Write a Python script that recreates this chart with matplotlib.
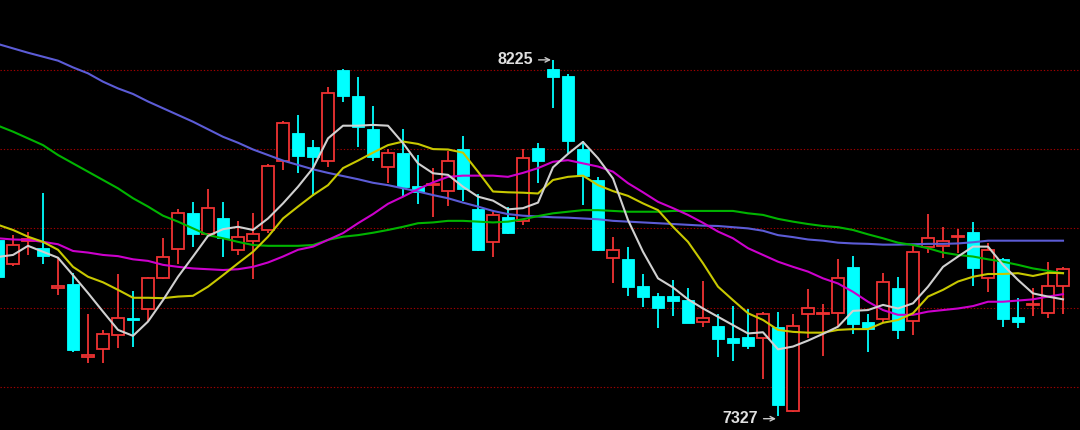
import matplotlib
matplotlib.use('Agg')
import matplotlib.pyplot as plt
import numpy as np

# ---- data (prices) ----
opens = [7771, 7710, 7768, 7751, 7650, 7660, 7476, 7496, 7531, 7574,
         7597, 7675, 7748, 7839, 7786, 7826, 7746, 7768, 7796, 7970,
         8041, 8005, 7970, 8199, 8134, 8051, 7955, 7990, 7907, 7909,
         7894, 8000, 7849, 7766, 7829, 7819, 8003, 8202, 8184, 8000,
         7922, 7725, 7723, 7655, 7629, 7629, 7619, 7564, 7554, 7524,
         7526, 7524, 7551, 7339, 7584, 7584, 7587, 7703, 7564, 7571,
         7650, 7566, 7753, 7756, 7779, 7791, 7675, 7723, 7577, 7607,
         7587, 7655]
highs = [7776, 7783, 7791, 7889, 7728, 7687, 7584, 7544, 7685, 7642,
         7677, 7776, 7849, 7867, 7899, 7867, 7819, 7839, 7962, 8071,
         8086, 8023, 8157, 8202, 8182, 8109, 8000, 8051, 7985, 7952,
         7995, 8033, 7887, 7841, 7854, 8000, 8015, 8225, 8189, 8020,
         7930, 7778, 7753, 7685, 7637, 7670, 7650, 7667, 7584, 7604,
         7597, 7589, 7589, 7584, 7647, 7609, 7723, 7730, 7584, 7688,
         7677, 7756, 7836, 7803, 7798, 7816, 7763, 7725, 7624, 7650,
         7715, 7703]
lows = [7675, 7705, 7733, 7710, 7632, 7488, 7461, 7461, 7498, 7501,
        7564, 7673, 7710, 7753, 7783, 7728, 7733, 7672, 7788, 7947,
        7940, 7882, 7955, 8119, 8005, 7970, 7914, 7882, 7861, 7829,
        7856, 7869, 7743, 7728, 7786, 7809, 7914, 8104, 7990, 7859,
        7743, 7662, 7630, 7602, 7549, 7579, 7561, 7551, 7476, 7466,
        7496, 7420, 7327, 7337, 7524, 7478, 7551, 7534, 7488, 7564,
        7521, 7531, 7738, 7725, 7738, 7655, 7640, 7551, 7549, 7579,
        7574, 7584]
closes = [7677, 7758, 7773, 7730, 7655, 7493, 7481, 7534, 7574, 7569,
          7675, 7728, 7839, 7786, 7851, 7776, 7778, 7786, 7957, 8066,
          7983, 7980, 8141, 8134, 8056, 7980, 7990, 7904, 7892, 7912,
          7970, 7899, 7746, 7834, 7788, 7978, 7970, 8182, 8020, 7932,
          7746, 7746, 7652, 7627, 7599, 7617, 7561, 7574, 7521, 7511,
          7503, 7584, 7355, 7554, 7599, 7587, 7675, 7559, 7546, 7665,
          7544, 7741, 7776, 7768, 7782, 7700, 7746, 7571, 7564, 7609,
          7655, 7698]

ma5 = [7728, 7733, 7756, 7741, 7726, 7682, 7637, 7590, 7544, 7529,
       7565, 7619, 7678, 7729, 7781, 7798, 7804, 7796, 7825, 7863,
       7905, 7952, 8027, 8059, 8059, 8061, 8059, 8015, 7964, 7939,
       7935, 7905, 7880, 7870, 7848, 7851, 7865, 7954, 7988, 8018,
       7977, 7926, 7821, 7741, 7674, 7651, 7621, 7598, 7577, 7556,
       7535, 7538, 7495, 7502, 7517, 7534, 7552, 7592, 7594, 7607,
       7598, 7611, 7653, 7703, 7729, 7754, 7754, 7708, 7670, 7636,
       7628, 7621]
ma10 = [7809, 7796, 7779, 7766, 7746, 7703, 7678, 7664, 7645, 7625,
        7625, 7624, 7628, 7630, 7653, 7682, 7712, 7741, 7779, 7825,
        7855, 7884, 7909, 7952, 7971, 7991, 8010, 8019, 8013, 8000,
        7999, 7991, 7943, 7893, 7891, 7890, 7888, 7922, 7930, 7933,
        7909, 7894, 7882, 7863, 7846, 7804, 7766, 7712, 7653, 7619,
        7586, 7569, 7544, 7539, 7537, 7537, 7544, 7546, 7546, 7562,
        7569, 7586, 7628, 7645, 7666, 7678, 7685, 7685, 7687, 7680,
        7688, 7687]
ma20 = [7775, 7772, 7771, 7766, 7760, 7743, 7739, 7733, 7730, 7722,
        7718, 7708, 7703, 7699, 7697, 7695, 7697, 7703, 7714, 7729,
        7746, 7754, 7771, 7788, 7813, 7836, 7862, 7880, 7899, 7916,
        7930, 7933, 7933, 7933, 7930, 7940, 7952, 7968, 7972, 7964,
        7956, 7943, 7914, 7891, 7867, 7851, 7834, 7814, 7792, 7775,
        7750, 7733, 7716, 7703, 7691, 7674, 7661, 7640, 7615, 7594,
        7582, 7582, 7590, 7594, 7598, 7604, 7615, 7615, 7618, 7621,
        7628, 7634]
ma40 = [8059, 8044, 8027, 8010, 7985, 7964, 7943, 7922, 7901, 7876,
        7855, 7832, 7817, 7800, 7783, 7775, 7766, 7758, 7756, 7756,
        7756, 7758, 7771, 7779, 7783, 7789, 7796, 7804, 7813, 7815,
        7819, 7819, 7817, 7815, 7817, 7823, 7831, 7838, 7842, 7846,
        7846, 7844, 7842, 7842, 7842, 7844, 7844, 7844, 7844, 7844,
        7838, 7834, 7824, 7817, 7811, 7806, 7803, 7796, 7785, 7775,
        7764, 7758, 7750, 7739, 7733, 7729, 7722, 7716, 7708, 7699,
        7693, 7687]
ma60 = [8265, 8254, 8243, 8233, 8223, 8206, 8191, 8170, 8153, 8139,
        8120, 8103, 8086, 8069, 8050, 8031, 8016, 7999, 7985, 7971,
        7960, 7949, 7940, 7932, 7924, 7915, 7909, 7901, 7893, 7884,
        7876, 7865, 7855, 7844, 7836, 7832, 7830, 7828, 7827, 7825,
        7823, 7819, 7817, 7815, 7813, 7811, 7809, 7807, 7806, 7803,
        7800, 7794, 7783, 7778, 7772, 7769, 7764, 7762, 7761, 7759,
        7759, 7760, 7761, 7761, 7762, 7765, 7769, 7769, 7769, 7769,
        7769, 7769]

grid_levels = [8200, 8000, 7800, 7600, 7400]

# ---- styles ----
BG = 'black'
UP = '#f03232'
DOWN = '#00ffff'
line_styles = [
    (ma60, '#5c5cd6'),
    (ma40, '#00b400'),
    (ma20, '#cc00cc'),
    (ma10, '#c8c800'),
    (ma5, '#d0d0d0'),
]

fig = plt.figure(figsize=(10.8, 4.3), dpi=100, facecolor=BG)
ax = fig.add_axes([0, 0, 1, 1], facecolor=BG)

o = np.array(opens, float)
h = np.array(highs, float)
l = np.array(lows, float)
c = np.array(closes, float)
x = np.arange(len(o))
up = c >= o
dn = ~up

for lv in grid_levels:
    ax.axhline(lv, color='#a00000', linestyle=(0, (1.2, 1.8)), linewidth=0.8, zorder=0)

# wicks
top = np.maximum(o, c)
bot = np.minimum(o, c)
ax.vlines(x[up], top[up], h[up], color=UP, linewidth=1.3, zorder=2)
ax.vlines(x[up], l[up], bot[up], color=UP, linewidth=1.3, zorder=2)
ax.vlines(x[dn], l[dn], h[dn], color=DOWN, linewidth=1.3, zorder=2)

# bodies
ax.bar(x[up], np.maximum(c[up] - o[up], 1.5), bottom=o[up], width=0.78,
       facecolor=BG, edgecolor=UP, linewidth=1.3, zorder=3)
ax.bar(x[dn], np.maximum(o[dn] - c[dn], 3), bottom=c[dn], width=0.78,
       facecolor=DOWN, edgecolor=DOWN, linewidth=0.6, zorder=3)

# moving averages
for vals, col in line_styles:
    ax.plot(x, vals, color=col, linewidth=1.5, zorder=4, solid_joinstyle='round')

# extreme labels
hi_i = int(np.argmax(h))
lo_i = int(np.argmin(l))
txt_kw = dict(color='#e0e0e0', fontsize=11.5, fontweight='bold',
              family=['Liberation Sans', 'DejaVu Sans'], ha='right', va='center',
              textcoords='offset points',
              arrowprops=dict(arrowstyle='->', color='#c8c8c8', lw=1.0,
                              shrinkA=2, shrinkB=0, mutation_scale=8),
              zorder=6)
ax.annotate(f'{int(h[hi_i])}', xy=(hi_i - 0.13, h[hi_i]), xytext=(-13, 0), **txt_kw)
ax.annotate(f'{int(l[lo_i])}', xy=(lo_i - 0.13, l[lo_i] - 7), xytext=(-13, 0), **txt_kw)

ax.set_xlim(0.133, 72.133)
ax.set_ylim(7291.5, 8376)
ax.set_xticks([])
ax.set_yticks([])
for s in ax.spines.values():
    s.set_visible(False)

fig.savefig('out.png', dpi=100, facecolor=BG)
